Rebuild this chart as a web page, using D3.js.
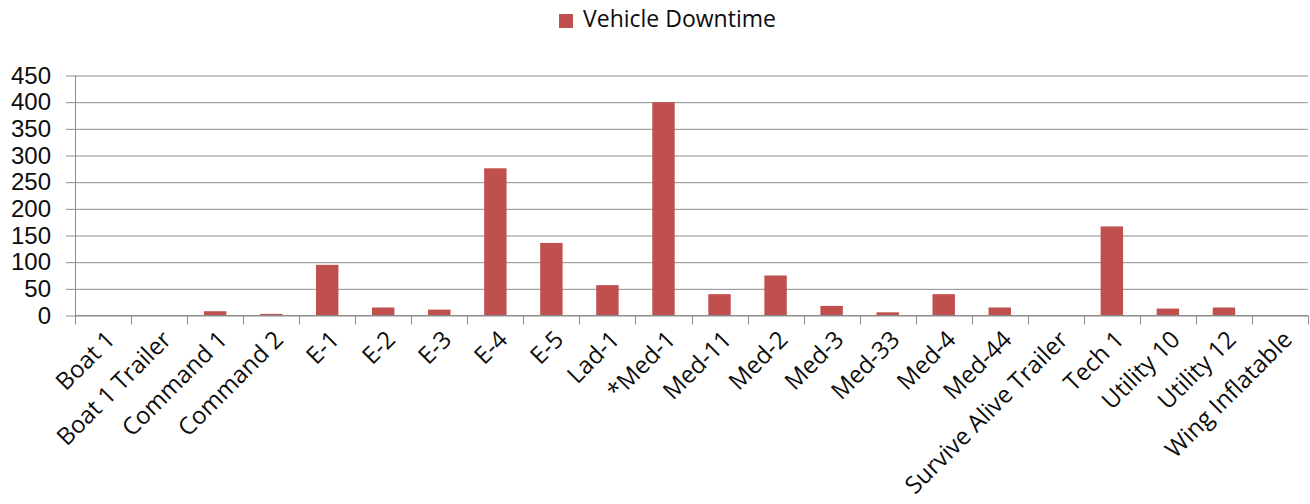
<!DOCTYPE html>
<html>
<head>
<meta charset="utf-8">
<script src="https://cdn.jsdelivr.net/npm/d3@7/dist/d3.min.js"></script>
<style>
  body { margin: 0; background: #fff; }
  svg { display: block; font-family: "Open Sans", "Noto Sans", sans-serif; }
</style>
</head>
<body>
<svg id="chart" width="1310" height="504"></svg>
<script>
// Data
const categories = ["Boat 1", "Boat 1 Trailer", "Command 1", "Command 2", "E-1", "E-2", "E-3", "E-4", "E-5",
    "Lad-1", "*Med-1", "Med-11", "Med-2", "Med-3", "Med-33", "Med-4", "Med-44", "Survive Alive Trailer",
    "Tech 1", "Utility 10", "Utility 12", "Wing Inflatable"];
const downtime = [0, 0, 8, 3, 95, 15, 11, 276, 136, 57, 400, 40, 75, 18, 6, 40, 15, 0, 167, 13, 15, 0];
const yTicks = [0, 50, 100, 150, 200, 250, 300, 350, 400, 450];
const seriesName = "Vehicle Downtime";

const BAR_COLOR = "#C0504D";
const GRID_COLOR = "#8c8c8c";
const TEXT_COLOR = "#0d0d0d";

const svg = d3.select("#chart");
const margin = { top: 75.5, right: 2, bottom: 188.5, left: 75 };
const width = 1310 - margin.left - margin.right;
const height = 504 - margin.top - margin.bottom;

const g = svg.append("g").attr("transform", `translate(${margin.left},${margin.top})`);

// Scales
const x = d3.scaleBand().domain(categories).range([0, width]).paddingInner(0.6).paddingOuter(0.3);
const y = d3.scaleLinear().domain([0, 450]).range([height, 0]);

// Gridlines + y labels
const yAxis = d3.axisLeft(y).tickValues(yTicks).tickSize(-width).tickPadding(24);
const yG = g.append("g").call(yAxis);
yG.select(".domain").remove();
yG.selectAll(".tick line").attr("stroke", GRID_COLOR).attr("x1", -9);
yG.selectAll(".tick text").attr("font-size", "24px").attr("fill", TEXT_COLOR);

// y axis line
g.append("line").attr("x1", 0.5).attr("x2", 0.5).attr("y1", 0).attr("y2", height).attr("stroke", GRID_COLOR);

// Bars
g.selectAll(".bar")
    .data(downtime)
    .enter()
    .append("rect")
    .attr("class", "bar")
    .attr("x", (d, i) => x(categories[i]))
    .attr("y", d => y(d))
    .attr("width", x.bandwidth())
    .attr("height", d => height - y(d))
    .attr("fill", BAR_COLOR);

// x axis with ticks at band boundaries
const step = x.step();
const xG = g.append("g").attr("transform", `translate(0,${height})`);
xG.append("line").attr("x1", 0).attr("x2", width).attr("stroke", GRID_COLOR);
xG.selectAll(".bound")
    .data(d3.range(categories.length + 1))
    .enter()
    .append("line")
    .attr("x1", i => Math.round(i * step) + 0.5)
    .attr("x2", i => Math.round(i * step) + 0.5)
    .attr("y1", 0)
    .attr("y2", 9)
    .attr("stroke", GRID_COLOR);

xG.selectAll(".xlabel")
    .data(categories)
    .enter()
    .append("text")
    .attr("class", "xlabel")
    .attr("transform", d => `translate(${x(d) + x.bandwidth() / 2 + 9},${21}) rotate(-45)`)
    .attr("text-anchor", "end")
    .attr("dominant-baseline", "middle")
    .attr("font-size", "24px")
    .attr("fill", TEXT_COLOR)
    .text(d => d);

// Legend
const legend = svg.append("g").attr("transform", "translate(559,14)");
legend.append("rect").attr("width", 14).attr("height", 14).attr("fill", BAR_COLOR);
legend.append("text")
    .attr("x", 24)
    .attr("y", 7)
    .attr("dominant-baseline", "middle")
    .attr("font-size", "23px")
    .attr("fill", TEXT_COLOR)
    .text(seriesName);
</script>
</body>
</html>
